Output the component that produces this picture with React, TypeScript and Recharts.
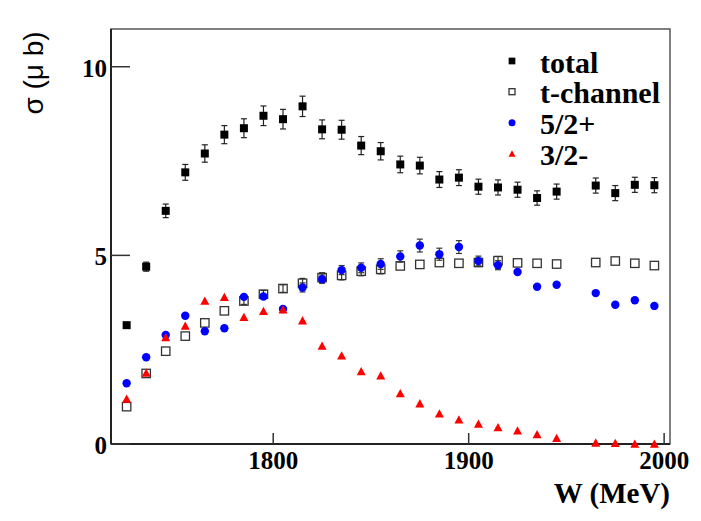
import { ErrorBar, ReferenceArea, Scatter, ScatterChart, XAxis, YAxis } from 'recharts';

// beam energy W (MeV), bin centres; 1955 has no entry
const W = [
  1725, 1735, 1745, 1755, 1765, 1775, 1785, 1795, 1805, 1815, 1825, 1835, 1845, 1855,
  1865, 1875, 1885, 1895, 1905, 1915, 1925, 1935, 1945, 1965, 1975, 1985, 1995,
];

const totalSigma = [
  3.15, 4.7, 6.18, 7.2, 7.7, 8.2, 8.37, 8.7, 8.61, 8.95, 8.34, 8.33, 7.91, 7.76,
  7.41, 7.38, 7.01, 7.06, 6.82, 6.8, 6.74, 6.52, 6.69, 6.85, 6.65, 6.87, 6.86,
];
const totalErr = [
  0, 0.12, 0.18, 0.21, 0.23, 0.24, 0.25, 0.26, 0.26, 0.27, 0.25, 0.25, 0.24, 0.23,
  0.22, 0.22, 0.21, 0.21, 0.2, 0.2, 0.2, 0.19, 0.2, 0.2, 0.2, 0.2, 0.2,
];

const tChannelSigma = [
  0.99, 1.87, 2.46, 2.86, 3.21, 3.53, 3.79, 3.97, 4.12, 4.26, 4.41, 4.47, 4.58, 4.63,
  4.72, 4.76, 4.81, 4.79, 4.81, 4.86, 4.8, 4.79, 4.77, 4.81, 4.85, 4.79, 4.73,
];
// bars shorter than the marker are not drawn
const tChannelErr = [
  0, 0, 0, 0, 0, 0, 0.09, 0.1, 0.1, 0.13, 0.13, 0.12, 0.12, 0.12,
  0, 0, 0, 0, 0.1, 0.11, 0, 0, 0, 0, 0, 0, 0,
];

const p52Sigma = [
  1.61, 2.3, 2.89, 3.4, 2.99, 3.07, 3.9, 3.91, 3.58, 4.15, 4.37, 4.61, 4.67, 4.77,
  4.97, 5.26, 5.03, 5.22, 4.85, 4.74, 4.56, 4.17, 4.22, 4.0, 3.69, 3.81, 3.66,
];
const p52Err = [
  0, 0, 0, 0, 0, 0, 0, 0, 0, 0.12, 0.11, 0.12, 0.13, 0.14,
  0.15, 0.17, 0.16, 0.17, 0.13, 0.12, 0, 0, 0, 0, 0, 0, 0,
];

const m32Sigma = [
  1.2, 1.89, 2.83, 3.14, 3.8, 3.9, 3.37, 3.53, 3.57, 3.28, 2.61, 2.35, 1.93, 1.82,
  1.35, 1.08, 0.81, 0.65, 0.54, 0.45, 0.36, 0.26, 0.16, 0.04, 0.03, 0.01, 0.01,
];

const xTicks = [1800, 1900, 2000];
const yTicks = [0, 5, 10];
const legendNames = ['total', 't-channel', '5/2+', '3/2-'];

const FONT = '"Liberation Serif", "Times New Roman", serif';
const BLUE = '#0000ff';
const RED = '#ff0000';

function rows(values: number[], errors?: number[]) {
  return W.map((w, i) => ({ w, sigma: values[i], err: errors ? errors[i] : 0 }));
}

const totalData = rows(totalSigma, totalErr);
const tChannelData = rows(tChannelSigma, tChannelErr);
const p52Data = rows(p52Sigma, p52Err);
const m32Data = rows(m32Sigma);

function FilledSquare({ cx, cy, s = 8 }: any) {
  return <rect x={cx - s / 2} y={cy - s / 2} width={s} height={s} fill="#000" />;
}

function OpenSquare({ cx, cy, s = 8.4 }: any) {
  return (
    <rect x={cx - s / 2} y={cy - s / 2} width={s} height={s} fill="none" stroke="#333" strokeWidth={1.3} />
  );
}

function Dot({ cx, cy, r = 4.2 }: any) {
  return <circle cx={cx} cy={cy} r={r} fill={BLUE} />;
}

function Triangle({ cx, cy, s = 9 }: any) {
  const h = s * 0.92;
  return (
    <polygon
      points={`${cx},${cy - h / 2} ${cx + s / 2},${cy + h / 2} ${cx - s / 2},${cy + h / 2}`}
      fill={RED}
    />
  );
}

function XTick({ x, y, payload }: any) {
  return (
    <g>
      <line x1={x} y1={y} x2={x} y2={y - 11} stroke="#333" strokeWidth={1.5} />
      <text x={x} y={y + 25} textAnchor="middle" fontFamily={FONT} fontWeight="bold" fontSize={25} fill="#000">
        {payload.value}
      </text>
    </g>
  );
}

function YTick({ x, y, payload }: any) {
  return (
    <g>
      <line x1={x} y1={y} x2={x + 19} y2={y} stroke="#333" strokeWidth={1.5} />
      <text x={x - 4} y={y + 10} textAnchor="end" fontFamily={FONT} fontWeight="bold" fontSize={25} fill="#000">
        {payload.value}
      </text>
    </g>
  );
}

function XTitle({ viewBox }: any) {
  const { x, y, width } = viewBox;
  return (
    <text x={x + width} y={y + 59} textAnchor="end" fontFamily={FONT} fontWeight="bold" fontSize={29} fill="#000">
      W (MeV)
    </text>
  );
}

function YTitle({ viewBox }: any) {
  const cx = viewBox.x + 33;
  const cy = viewBox.y + 44;
  return (
    <text
      x={cx}
      y={cy}
      transform={`rotate(-90, ${cx}, ${cy})`}
      textAnchor="middle"
      dominantBaseline="central"
      fontFamily='"Liberation Sans", Arial, sans-serif'
      fontSize={28}
      fill="#000"
    >
      σ (μ b)
    </text>
  );
}

function LegendBox() {
  const markers = [
    <FilledSquare cx={12} cy={0} s={6.7} />,
    <OpenSquare cx={12} cy={0} s={6} />,
    <Dot cx={12} cy={0} r={3.5} />,
    <Triangle cx={12} cy={0} s={7} />,
  ];
  const rowY = [21, 51.7, 82.8, 113.5];
  return (
    <svg width={190} height={140} style={{ position: 'absolute', left: 500, top: 40 }}>
      {legendNames.map((name, i) => (
        <g key={name} transform={`translate(0, ${rowY[i]})`}>
          {markers[i]}
          <text x={40} y={11.5} fontFamily={FONT} fontWeight="bold" fontSize={30} fill="#000">
            {name}
          </text>
        </g>
      ))}
    </svg>
  );
}

export default function App() {
  return (
    <div style={{ position: 'absolute', left: 0, top: 0, width: 701, height: 521, background: '#fff' }}>
      <ScatterChart width={701} height={521} margin={{ top: 29, right: 31, bottom: 0, left: 0 }}>
        <ReferenceArea x1={1717} x2={2003} y1={0} y2={11} fill="none" stroke="#555" strokeWidth={1.5} />
        <XAxis
          type="number"
          dataKey="w"
          domain={[1717, 2003]}
          ticks={xTicks}
          interval={0}
          height={77}
          tickSize={0}
          tickMargin={0}
          tickLine={false}
          axisLine={{ stroke: '#222', strokeWidth: 2 }}
          tick={<XTick />}
          label={<XTitle />}
        />
        <YAxis
          type="number"
          dataKey="sigma"
          domain={[0, 11]}
          ticks={yTicks}
          interval={0}
          width={111}
          tickSize={0}
          tickMargin={0}
          tickLine={false}
          axisLine={{ stroke: '#222', strokeWidth: 2 }}
          tick={<YTick />}
          label={<YTitle />}
        />
        <Scatter name="total" data={totalData} shape={<FilledSquare />} isAnimationActive={false}>
          <ErrorBar dataKey="err" direction="y" width={3} stroke="#222" strokeWidth={1.2} />
        </Scatter>
        <Scatter name="t-channel" data={tChannelData} shape={<OpenSquare />} isAnimationActive={false}>
          <ErrorBar dataKey="err" direction="y" width={3} stroke="#333" strokeWidth={1.2} />
        </Scatter>
        <Scatter name="5/2+" data={p52Data} shape={<Dot />} isAnimationActive={false}>
          <ErrorBar dataKey="err" direction="y" width={3} stroke="#333" strokeWidth={1.2} />
        </Scatter>
        <Scatter name="3/2-" data={m32Data} shape={<Triangle />} isAnimationActive={false} />
      </ScatterChart>
      <LegendBox />
    </div>
  );
}
